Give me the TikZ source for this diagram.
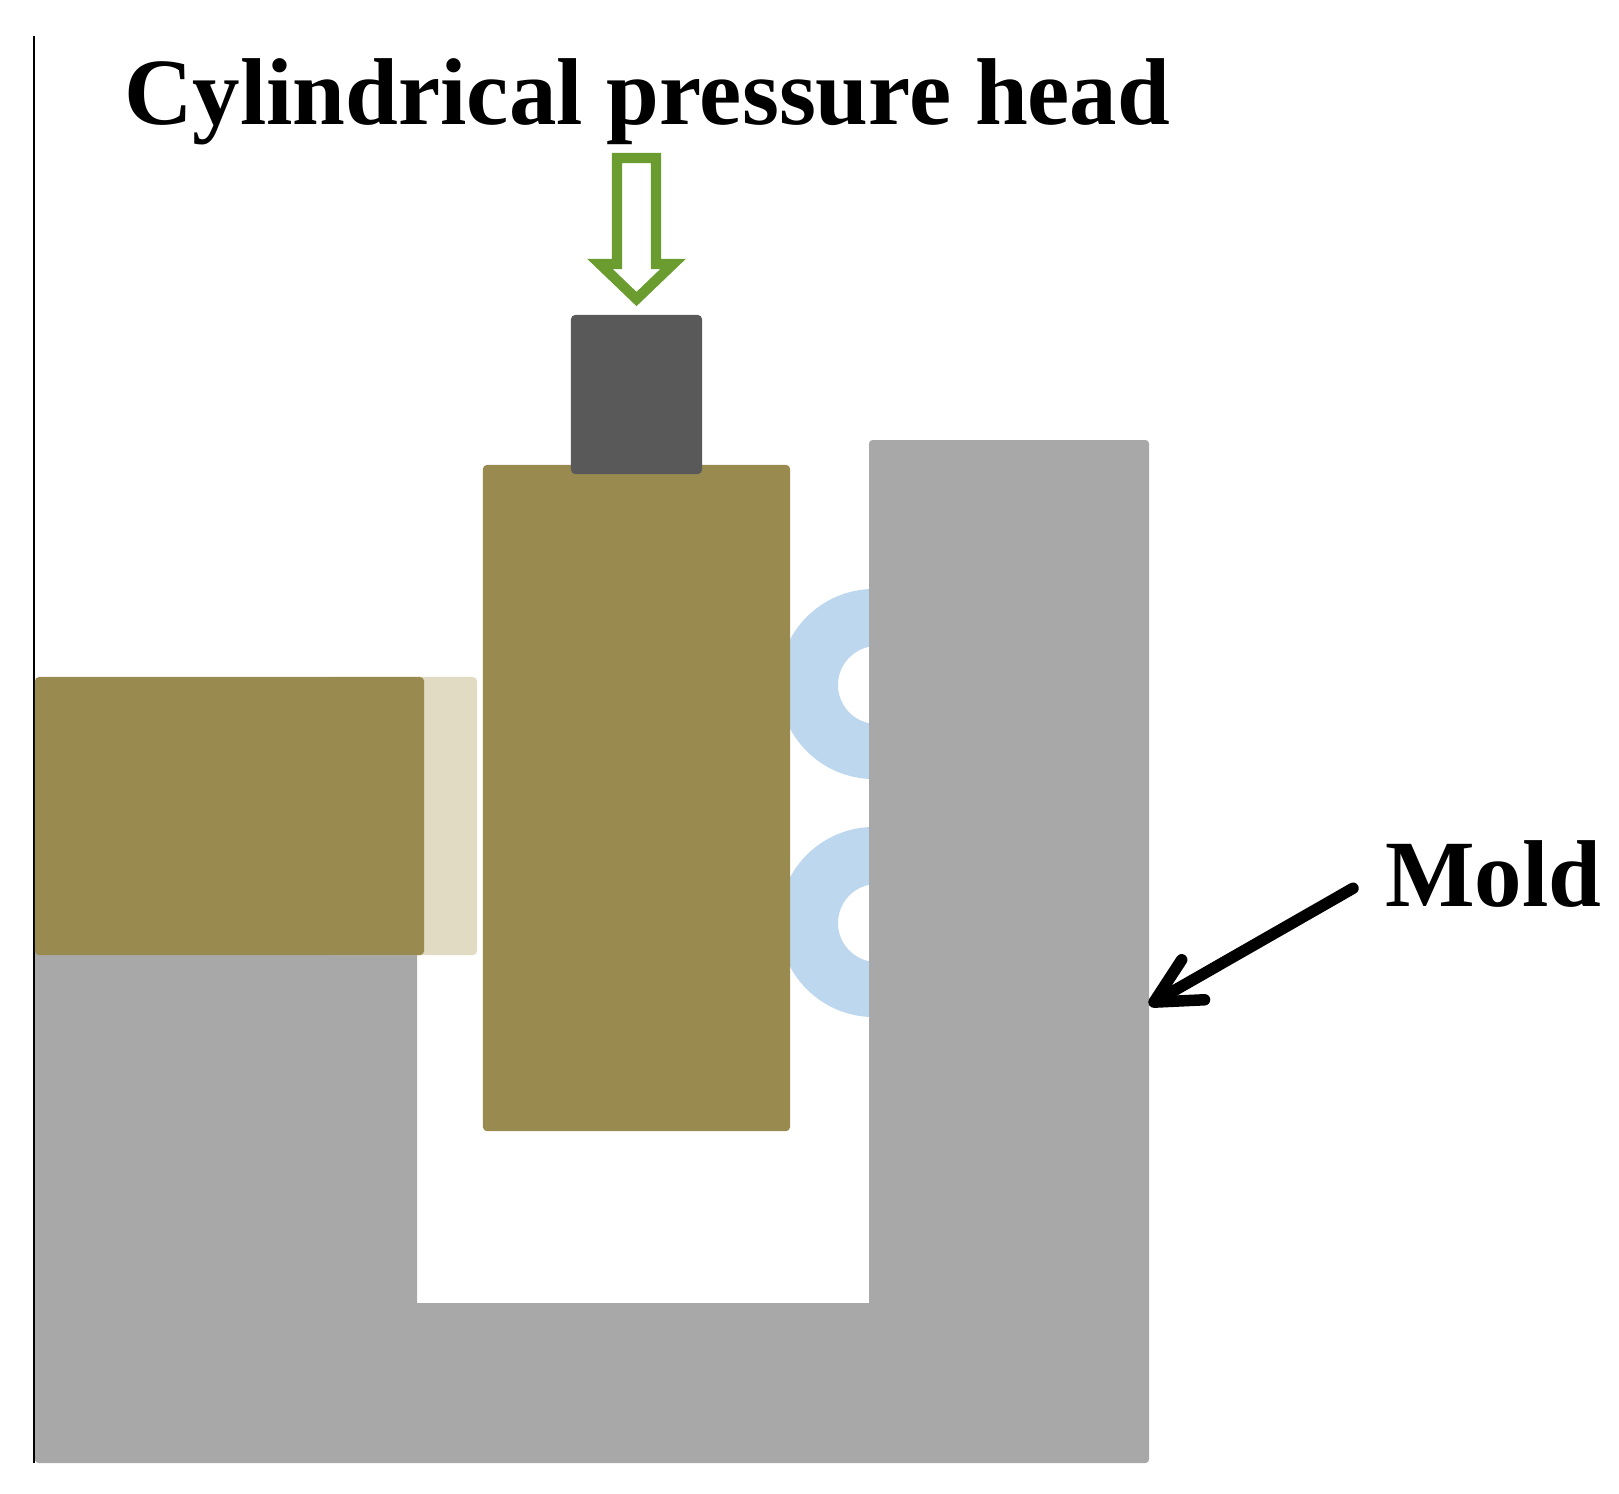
\documentclass[tikz,border=0pt]{standalone}
\usepackage{fontspec}
\setmainfont{Liberation Serif}
\definecolor{moldgray}{RGB}{168,168,168}
\definecolor{blockolive}{RGB}{153,139,80}
\definecolor{padcream}{RGB}{224,219,194}
\definecolor{headgray}{RGB}{89,89,89}
\definecolor{ringblue}{RGB}{189,215,238}
\definecolor{forcegreen}{RGB}{107,156,47}
\usetikzlibrary{arrows.meta}

\begin{document}
\begin{tikzpicture}[
  x=0.01cm,y=-0.01cm,
  partbox/.style={rounded corners=1.2pt,inner sep=0pt,outer sep=0pt},
  labeltext/.style={font=\fontsize{27}{30}\selectfont\bfseries,inner ysep=0pt,outer sep=0pt},
]
  \useasboundingbox (0,0) rectangle (1619,1493);

  % O-rings, cut by block and mold
  \fill[ringblue,even odd rule] (874,684) circle (0.95cm) (877,685) circle (0.39cm);
  \fill[ringblue,even odd rule] (874,922) circle (0.95cm) (877,923) circle (0.39cm);

  % Mold
  \fill[moldgray] (35,1463) -- (35,941) -- (417,941) -- (417,1303) -- (869,1303)
    [rounded corners=1pt] -- (869,440) -- (1149,440) -- (1149,1463) -- (35,1463) -- cycle;
  \draw[black,line width=0.025cm] (34,36) -- (34,1463);

  % Side block and pad
  \node[partbox,fill=padcream,minimum width=1.5cm,minimum height=2.78cm] (pad) at (402,816) {};
  \node[partbox,fill=blockolive,minimum width=3.89cm,minimum height=2.78cm] (sideblock) at (229.5,816) {};

  % Main block and pressure head
  \node[partbox,fill=blockolive,minimum width=3.07cm,minimum height=6.66cm] (mainblock) at (636.5,798) {};
  \node[partbox,fill=headgray,minimum width=1.31cm,minimum height=1.59cm] (head) at (636.5,394.5) {};

  % Force arrow
  \draw[forcegreen,fill=white,line width=0.103cm,miter limit=10]
    (617,158) -- (656,158) -- (656,264) -- (673,264) -- (636.5,299)
    -- (600,264) -- (617,264) -- cycle;

  % Labels
  \node[labeltext,anchor=base west,inner xsep=0pt] (headlabel) at (124,124) {Cylindrical pressure head};
  \node[labeltext,anchor=base west,inner xsep=0.32cm] (moldlabel) at (1353,906) {Mold};

  % Mold arrow
  \coordinate (moldtip) at (1149,1005);
  \draw[-{Straight Barb[round,length=0.45cm,width=0.46cm]},line width=0.115cm,line cap=round]
    (moldlabel.186) -- (moldtip);
\end{tikzpicture}
\end{document}
